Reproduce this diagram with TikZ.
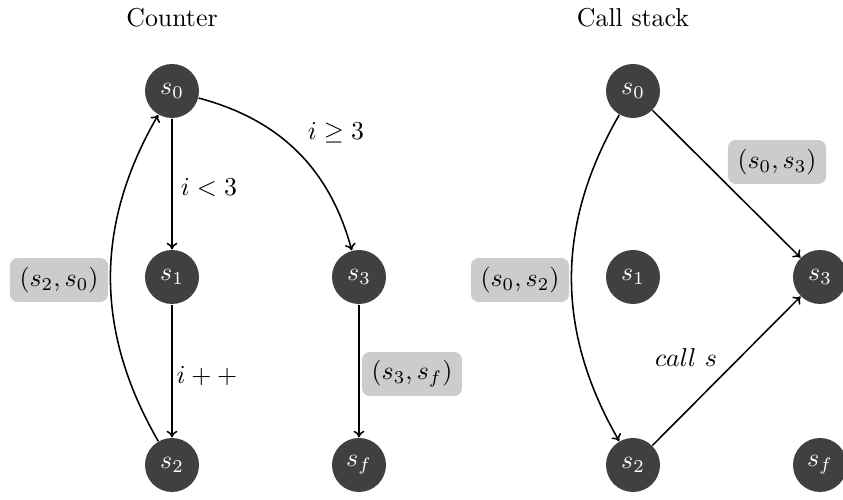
\documentclass[tikz,border=0pt]{standalone}
\usetikzlibrary{arrows.meta}
\definecolor{nodegray}{HTML}{404040}
\definecolor{boxgray}{HTML}{CCCCCC}
\begin{document}
\begin{tikzpicture}[x=0.387pt,y=-0.387pt,
  state/.style={circle, fill=nodegray, text=white, minimum size=20.9pt, inner sep=0pt},
  lbl/.style={fill=boxgray, rounded corners=3pt, inner xsep=3.7pt, inner ysep=0pt, minimum height=17pt},
  tlbl/.style={},
  ttl/.style={},
  edge/.style={-{To[length=2.6pt,width=4.2pt]}, line width=0.6pt}]
\useasboundingbox (0,0) rectangle (843,500);
\clip (0,0) rectangle (843,500);
% titles
\node[ttl] (t1) at (172,18) {Counter};
\node[ttl] (t2) at (633,18) {Call stack};
% left graph
\node[state] (a0) at (172,91) {$s_0$};
\node[state] (a1) at (172,277) {$s_1$};
\node[state] (a2) at (172,465) {$s_2$};
\node[state] (a3) at (359,277) {$s_3$};
\node[state] (af) at (359,465) {$s_f$};
\draw[edge] (a0) -- (a1);
\draw[edge] (a1) -- (a2);
\draw[edge] (a0) to[bend left=30] (a3);
\draw[edge] (a2) to[bend left=30] (a0);
\draw[edge] (a3) -- (af);
\node[tlbl] (la1) at (209,187) {$i<3$};
\node[tlbl] (la2) at (336,133) {$i\geq 3$};
\node[tlbl] (la3) at (207,376) {$i++$};
\node[lbl] (la4) at (59,280) {$(s_2,s_0)$};
\node[lbl] (la5) at (412,374) {$(s_3,s_f)$};
% right graph
\node[state] (b0) at (633,91) {$s_0$};
\node[state] (b1) at (633,277) {$s_1$};
\node[state] (b2) at (633,465) {$s_2$};
\node[state] (b3) at (820,277) {$s_3$};
\node[state] (bf) at (820,465) {$s_f$};
\draw[edge] (b0) -- (b3);
\draw[edge] (b0) to[bend right=30] (b2);
\draw[edge] (b2) -- (b3);
\node[lbl] (lb1) at (777,162) {$(s_0,s_3)$};
\node[lbl] (lb2) at (520,280) {$(s_0,s_2)$};
\node[tlbl] (lb3) at (686,358) {$call\ s$};
\end{tikzpicture}
\end{document}
